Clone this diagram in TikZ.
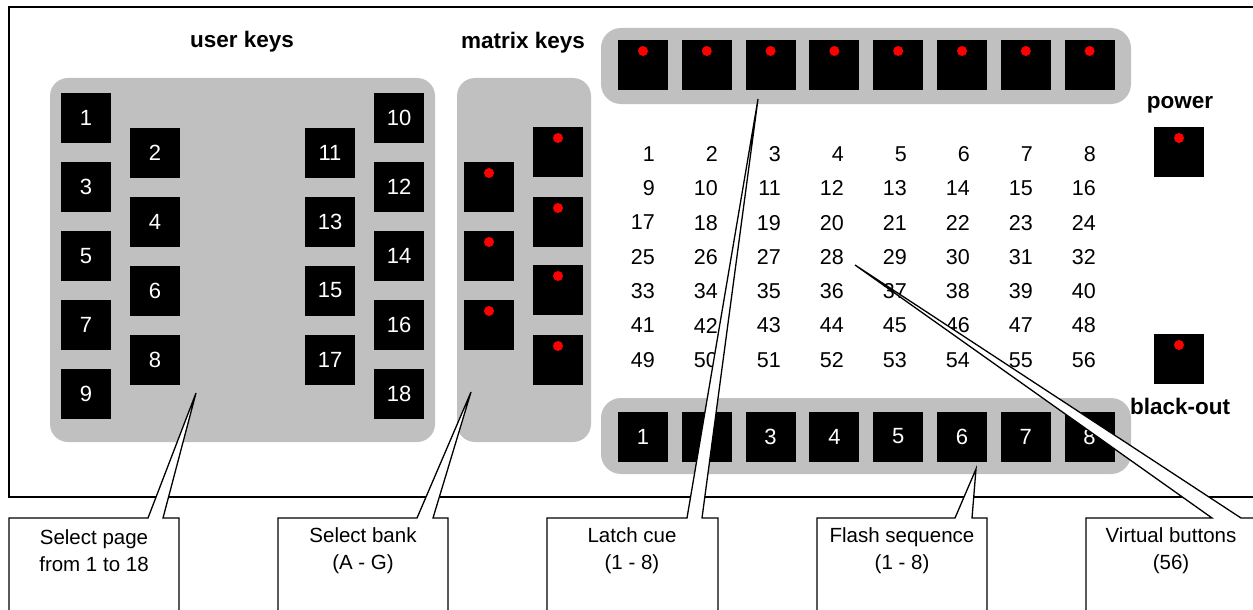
\documentclass[tikz,border=0pt]{standalone}
\usepackage{fontspec}
\setmainfont{Liberation Sans}
\usepackage{xcolor}
\definecolor{panelgray}{HTML}{C0C0C0}

\begin{document}
\begin{tikzpicture}[x=1pt,y=-1pt,
    panel/.style={fill=panelgray, rounded corners=18pt},
    key/.style={fill=black, minimum size=50pt, inner sep=0pt, text=white,
        font=\fontsize{22}{26}\selectfont},
    num/.style={inner sep=0pt, anchor=east, font=\fontsize{21.5}{26}\selectfont},
    title/.style={font=\bfseries\fontsize{22.5}{26}\selectfont},
    callout/.style={draw, fill=white, line width=1.3pt},
    note/.style={align=center, inner sep=0pt, font=\fontsize{20.5}{27}\selectfont}]
\useasboundingbox (0,0) rectangle (1253,610);
\clip (0,0) rectangle (1253,610);

% frame
\draw [line width=2pt] (1270,7) -| (9,497) -- (1270,497);

\node[title] (userlbl) at (242,42) {user keys};
\node[title] (matlbl) at (523,43) {matrix keys};
\node[title] (pwlbl) at (1180,105) {power};
\node[title] (bolbl) at (1180,406) {black-out};

% panels
\fill [panelgray, rounded corners=18pt] (50,78) rectangle (435,442);
\fill [panelgray, rounded corners=18pt] (457,78) rectangle (591,442);
\fill [panelgray, rounded corners=20pt] (601,28) rectangle (1131,104);
\fill [panelgray, rounded corners=20pt] (601,398) rectangle (1131,474);

% user keys
\foreach \i in {1,...,9} {
    \pgfmathsetmacro\kx{isodd(\i) ? 86 : 155}
    \node[key] (u\i) at (\kx,{118+(\i-1)*34.5}) {\i};
}
\foreach \i in {10,...,18} {
    \pgfmathsetmacro\kx{isodd(\i) ? 330 : 399}
    \node[key] (u\i) at (\kx,{118+(\i-10)*34.5}) {\i};
}

% matrix keys
\foreach \i/\kx/\ky in {1/558/152, 2/489/187, 3/558/222, 4/489/256, 5/558/290, 6/489/325, 7/558/360} {
    \node[key] (m\i) at (\kx,\ky) {};
    \fill [red] (m\i.center) ++(0,-14) circle (5pt);
}

% top and bottom bank
\foreach \k in {1,...,8} {
    \node[key] (t\k) at ({643+63.8*(\k-1)},65) {};
    \fill [red] (t\k.center) ++(0,-14) circle (5pt);
    \node[key] (b\k) at ({643+63.8*(\k-1)},436.5) {\k};
}

\node[key] (pw) at (1179,152) {};
\fill [red] (pw.center) ++(0,-14) circle (5pt);
\node[key] (bo) at (1179,359) {};
\fill [red] (bo.center) ++(0,-14) circle (5pt);

% virtual buttons
\foreach \r in {0,...,6} {
    \foreach \c in {1,...,8} {
        \pgfmathtruncatemacro\n{\r*8+\c}
        \node[num] (v\n) at ({655+63*(\c-1)},{154+34.3*\r}) {\n};
    }
}

% callouts
\coordinate (tippage) at (196,393);
\coordinate (tipbank) at (471,392);
\coordinate (tiplatch) at (758,99);
\coordinate (tipflash) at (976,469);
\coordinate (tipvirt) at (855,265);

\draw[callout] (9,640) |- (148,518) -- (tippage) -- (163,518) -| (179,640) -- cycle;
\draw[callout] (278,640) |- (417,518) -- (tipbank) -- (433,518) -| (448,640) -- cycle;
\draw[callout] (547,640) |- (687,518) -- (tiplatch) -- (702,518) -| (718,640) -- cycle;
\draw[callout] (817,640) |- (955,518) -- (tipflash) -- (972,518) -| (987,640) -- cycle;
\draw[callout] (1086,640) |- (1212,518) -- (tipvirt) -- (1241,518) -| (1256,640) -- cycle;

\node[note] (page) at (94,551) {Select page\\from 1 to 18};
\node[note] (bank) at (363,551) {Select bank\\(A - G)};
\node[note] (latch) at (632,551) {Latch cue\\(1 - 8)};
\node[note] (flash) at (902,551) {Flash sequence\\(1 - 8)};
\node[note] (virt) at (1171,551) {Virtual buttons\\(56)};

\end{tikzpicture}
\end{document}
